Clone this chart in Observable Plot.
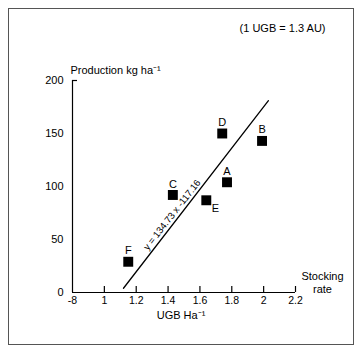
<!DOCTYPE html>
<html>
<head>
<meta charset="utf-8">
<script src="https://cdn.jsdelivr.net/npm/d3@7"></script>
<script src="https://cdn.jsdelivr.net/npm/@observablehq/plot@0.6"></script>
<style>
  html, body { margin: 0; padding: 0; background: #fff; }
  #wrap { position: relative; width: 364px; height: 357px; }
  #border { position: absolute; left: 8px; top: 8px; width: 344px; height: 335px; border: 1.5px solid #555; pointer-events: none; }
  svg { font-family: "Liberation Sans", Arial, sans-serif; }
</style>
</head>
<body>
<div id="wrap"><div id="border"></div></div>
<script>
// Data
const labels = ["A", "B", "C", "D", "E", "F"];
const stocking = [1.77, 1.99, 1.43, 1.74, 1.64, 1.15];
const production = [104, 143, 92, 150, 87, 29];
// regression line as drawn
const lineX = [1.12, 2.03];
const lineY = [4, 181];
const xTicks = [0.8, 1.0, 1.2, 1.4, 1.6, 1.8, 2.0, 2.2];
const xTickLabels = ["-8", "1", "1.2", "1.4", "1.6", "1.8", "2", "2.2"];
const yTicks = [0, 50, 100, 150, 200];
const equation = "y = 134.73 x -117.16";

const points = labels.map((l, i) => ({label: l, x: stocking[i], y: production[i]}));
const line = lineX.map((x, i) => ({x, y: lineY[i]}));
const labelOffsets = {A: [0, -11], B: [0, -11], C: [0, -11], D: [0, -11], E: [9, 8], F: [0, -11]};
// equation placed on the drawn line (about 37% along), offset above-left of it
const eqPoint = [{x: lineX[0] + 0.37 * (lineX[1] - lineX[0]), y: lineY[0] + 0.37 * (lineY[1] - lineY[0])}];

const chart = Plot.plot({
  width: 364,
  height: 357,
  marginLeft: 72,
  marginRight: 69,
  marginTop: 80,
  marginBottom: 65,
  style: {fontFamily: "Liberation Sans, Arial, sans-serif", fontSize: "11px", color: "#000", background: "transparent"},
  x: {domain: [0.8, 2.2], axis: null},
  y: {domain: [0, 200], axis: null},
  marks: [
    // x axis line and ticks
    Plot.ruleY([0], {x1: xTicks[0], x2: xTicks[xTicks.length - 1], stroke: "#000", strokeWidth: 1.2}),
    Plot.axisX({ticks: xTicks.slice(1), tickSize: 6, dy: -6, tickFormat: () => "", label: null, stroke: "#000", strokeWidth: 1.2}),
    Plot.axisX({ticks: xTicks, tickSize: 0, tickPadding: 4, label: null, tickFormat: (d) => xTickLabels[xTicks.findIndex(t => Math.abs(t - d) < 1e-9)], fontSize: 10.5, fill: "#000"}),
    // y axis line
    Plot.ruleX([xTicks[0]], {y1: yTicks[0], y2: yTicks[yTicks.length - 1], stroke: "#000", strokeWidth: 1.2}),
    Plot.axisY({ticks: [yTicks[yTicks.length - 1]], tickSize: 5, dx: 5, label: null, tickFormat: () => "", stroke: "#000", strokeWidth: 1.2}),
    Plot.axisY({ticks: yTicks, tickSize: 0, tickPadding: 9, label: null, fontSize: 11, fill: "#000"}),
    // regression line
    Plot.line(line, {x: "x", y: "y", stroke: "#000", strokeWidth: 1.3}),
    Plot.text(eqPoint, {x: "x", y: "y", text: () => equation, rotate: -52, dx: -5, dy: -4, fontSize: 9.5, fill: "#000"}),
    // points
    Plot.dot(points, {x: "x", y: "y", symbol: "square", r: 5.6, fill: "#000", stroke: "none"}),
    ...labels.map(l => Plot.text(points.filter(p => p.label === l), {x: "x", y: "y", text: "label", dx: labelOffsets[l][0], dy: labelOffsets[l][1], fontSize: 11, fill: "#000"})),
    // annotations
    Plot.text(["(1 UGB = 1.3 AU)"], {frameAnchor: "top-right", dx: 30, dy: -52, textAnchor: "end", lineAnchor: "middle", fontSize: 11, fill: "#000"}),
    Plot.text(["Production kg ha⁻¹"], {frameAnchor: "top-left", dx: -2, dy: -10, textAnchor: "start", lineAnchor: "middle", fontSize: 11, fill: "#000"}),
    Plot.text(["Stocking\nrate"], {frameAnchor: "bottom-right", dx: 27, dy: -10.5, textAnchor: "middle", lineAnchor: "middle", lineHeight: 1.2, fontSize: 11, fill: "#000"}),
    Plot.text(["UGB Ha⁻¹"], {frameAnchor: "bottom", dx: -3, dy: 22.5, lineAnchor: "middle", fontSize: 11, fill: "#000"})
  ]
});
chart.style.position = "absolute";
chart.style.left = "0";
chart.style.top = "0";
document.getElementById("wrap").prepend(chart);
</script>
</body>
</html>
